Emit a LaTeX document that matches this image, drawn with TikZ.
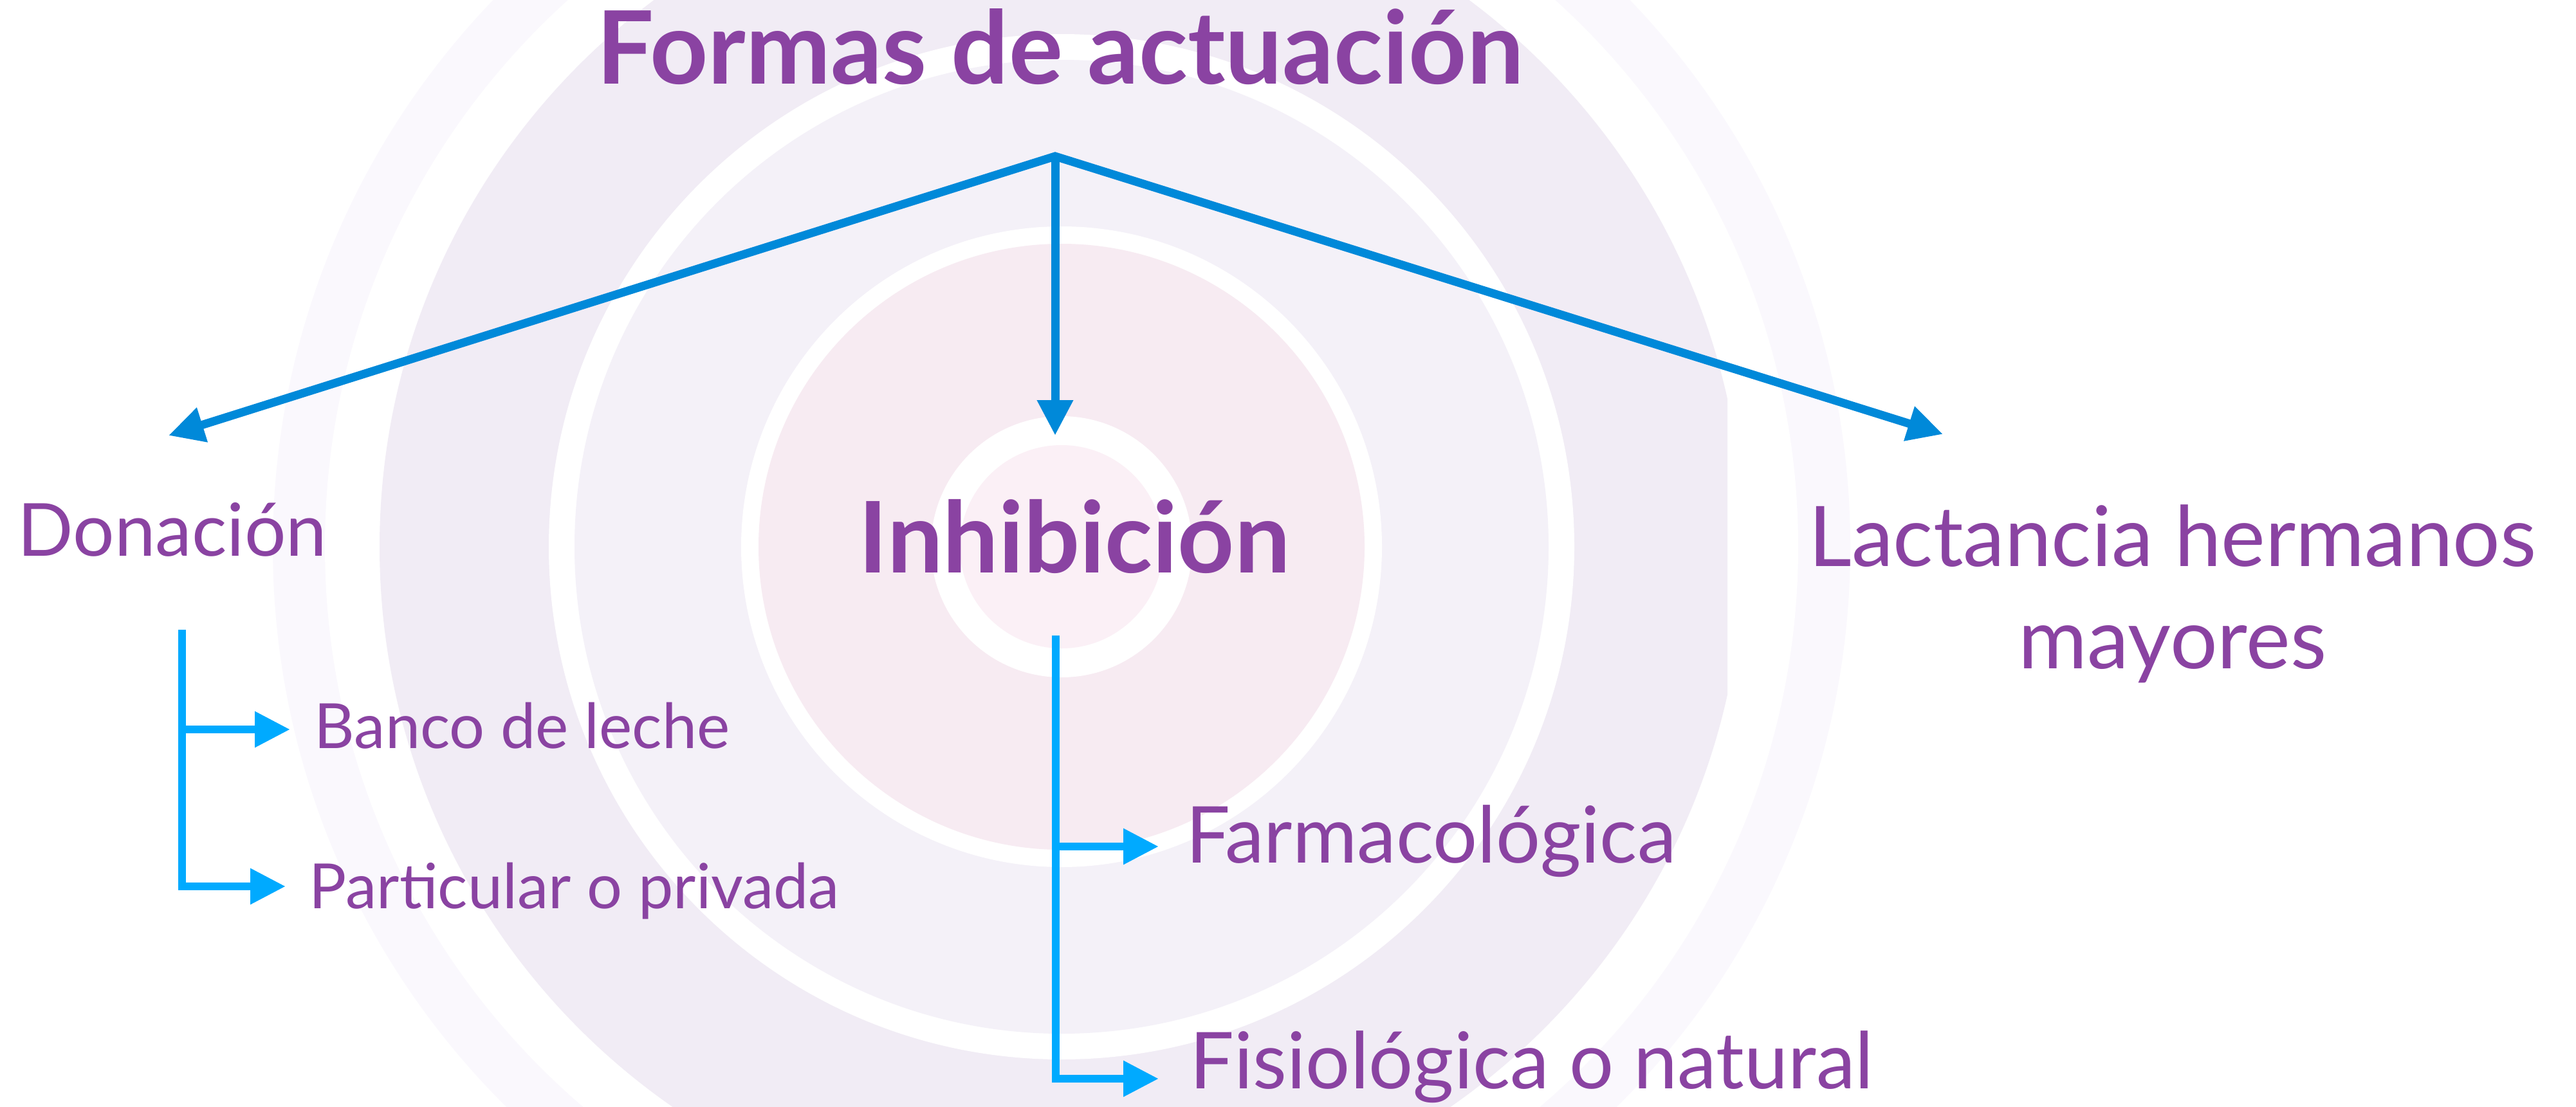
\documentclass[tikz,border=0pt]{standalone}
\usepackage{fontspec}
\setmainfont{Lato}
\usepackage{xcolor}
\usetikzlibrary{arrows.meta, positioning}

\definecolor{textpurple}{HTML}{8A43A2}
\definecolor{topblue}{HTML}{0089D9}
\definecolor{subblue}{HTML}{00AAFF}
\definecolor{ringfaint}{HTML}{FAF8FD}
\definecolor{ringlav}{HTML}{F1ECF5}
\definecolor{ringlight}{HTML}{F4F1F8}
\definecolor{ringpink}{HTML}{F7EBF2}
\definecolor{ringcore}{HTML}{FBF0F6}

\tikzset{
  headtext/.style={text=textpurple, inner sep=0pt, font=\bfseries\fontsize{44.8}{52}\selectfont},
  maintext/.style={text=textpurple, inner sep=0pt, font=\fontsize{37}{45}\selectfont},
  leaftext/.style={text=textpurple, inner sep=0pt, font=\fontsize{34.7}{40}\selectfont},
  smalltext/.style={text=textpurple, inner sep=0pt, font=\fontsize{27.6}{32}\selectfont},
  toparrow/.style={draw=topblue, line width=1.3mm, line join=miter},
  subarrow/.style={draw=subblue, line width=1.25mm, -{Triangle[length=5.5mm,width=5.3mm]}},
}

\begin{document}
\begin{tikzpicture}
		\useasboundingbox (0,0) rectangle (40.04,-17.20);

		% Background rings
		\begin{scope}
			\clip (0,0) rectangle (40.04,-17.20);
			\fill[ringfaint] (16.50,-8.50) circle (12.26);
			\fill[white] (16.50,-8.50) circle (11.45);
			\begin{scope}
				\clip (0,0) rectangle (26.85,-17.20);
				\fill[ringlav] (16.50,-8.50) circle (10.60);
			\end{scope}
			\fill[white] (16.50,-8.50) circle (7.97);
			\fill[ringlight] (16.50,-8.50) circle (7.57);
			\fill[white] (16.50,-8.50) circle (4.98);
			\fill[ringpink] (16.50,-8.50) circle (4.71);
			\fill[white] (16.50,-8.50) circle (2.03);
			\fill[ringcore] (16.50,-8.50) circle (1.58);
		\end{scope}

		% Labels
		\node[headtext, anchor=base] (formas) at (16.48,-1.30) {Formas de actuación};
		\node[headtext, anchor=base, font=\bfseries\fontsize{43.7}{52}\selectfont] (inhibicion) at (16.70,-8.90) {Inhibición};
		\node[leaftext, anchor=base west, font=\fontsize{32.4}{37}\selectfont] (donacion) at (0.27,-8.64) {Donación};
		\node[maintext, anchor=base, align=center] (lactancia) at (33.77,-10.39) {Lactancia hermanos\\mayores};

		\node[smalltext, anchor=base west] (banco) at (4.88,-11.63) {Banco de leche};
		\node[smalltext, anchor=base west] (particular) at (4.80,-14.12) {Particular o privada};
		\node[leaftext, anchor=base west] (farmaco) at (18.43,-13.41) {Farmacológica};
		\node[leaftext, anchor=base west] (fisio) at (18.49,-16.92) {Fisiológica o natural};

		% Arrow ends
		\coordinate (apex) at (16.40,-2.43);
		\coordinate (tipL) at (2.62,-6.77);
		\coordinate (tipM) at (16.40,-6.77);
		\coordinate (tipR) at (30.20,-6.75);

		\draw[toparrow, {Triangle[length=5.5mm,width=5.3mm]}-{Triangle[length=5.5mm,width=5.3mm]}] (tipL) -- (apex) -- (tipR);
		\draw[toparrow, -{Triangle[length=5.5mm,width=5.3mm]}] (apex) -- (tipM);

		% Donacion branch
		\coordinate (donTop) at (2.83,-9.79);
		\coordinate (donMid) at (2.83,-11.34);
		\coordinate (donBot) at (2.83,-13.78);
		\draw[subarrow] (donTop) -- (donBot) -- ([xshift=-3.6mm]donBot -| particular.west);
		\draw[subarrow] (donMid) -- ([xshift=-3.7mm]donMid -| banco.west);

		% Inhibicion branch
		\coordinate (inhTop) at (16.41,-9.88);
		\coordinate (inhMid) at (16.41,-13.16);
		\coordinate (inhBot) at (16.41,-16.77);
		\draw[subarrow] (inhTop) -- (inhBot) -- ([xshift=-4.8mm]inhBot -| fisio.west);
		\draw[subarrow] (inhMid) -- ([xshift=-4.2mm]inhMid -| farmaco.west);
\end{tikzpicture}
\end{document}
